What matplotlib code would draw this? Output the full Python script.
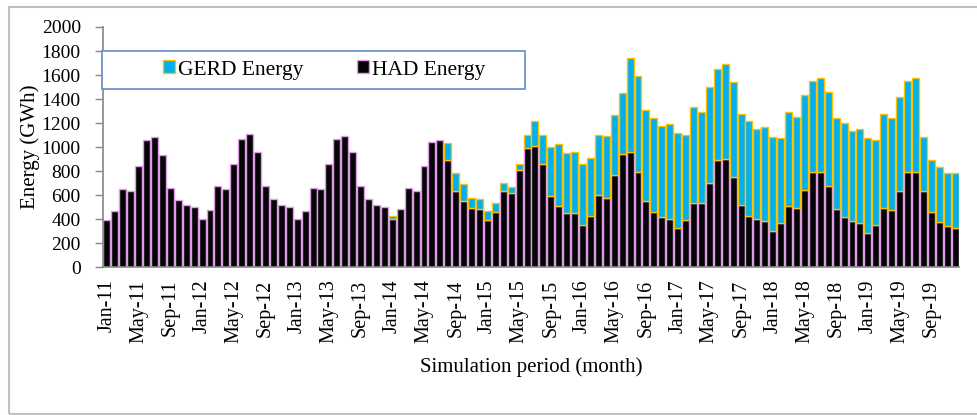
import matplotlib
matplotlib.use("Agg")
import matplotlib.pyplot as plt
from matplotlib.patches import Rectangle
import numpy as np

plt.rcParams['font.family'] = ['Liberation Serif', 'DejaVu Serif']

# Monthly energy (GWh), Jan-2011 .. Dec-2019
had_energy = [
    390, 468, 646, 632, 838, 1056, 1084, 930, 657, 557, 518, 504,   # 2011
    404, 479, 671, 649, 855, 1070, 1106, 956, 671, 568, 518, 504,   # 2012
    404, 468, 657, 646, 855, 1070, 1095, 956, 671, 568, 518, 504,   # 2013
    404, 482, 660, 632, 841, 1045, 1056, 891, 635, 549, 493, 482,   # 2014
    390, 460, 635, 613, 808, 989, 1011, 858, 591, 507, 454, 454,    # 2015
    354, 426, 596, 571, 766, 942, 958, 788, 552, 457, 418, 402,     # 2016
    326, 390, 535, 535, 702, 891, 903, 747, 518, 429, 396, 384,     # 2017
    304, 368, 507, 493, 638, 788, 788, 671, 482, 418, 382, 368,     # 2018
    287, 351, 493, 479, 635, 788, 788, 635, 457, 379, 340, 326,     # 2019
]
gerd_energy = [
    0, 0, 0, 0, 0, 0, 0, 0, 0, 0, 0, 0,                              # 2011
    0, 0, 0, 0, 0, 0, 0, 0, 0, 0, 0, 0,                              # 2012
    0, 0, 0, 0, 0, 0, 0, 0, 0, 0, 0, 0,                              # 2013
    20, 0, 0, 0, 0, 0, 0, 145, 145, 142, 78, 81,                     # 2014
    75, 75, 67, 50, 50, 109, 204, 242, 412, 518, 493, 504,           # 2015
    504, 485, 504, 518, 502, 504, 783, 800, 757, 783, 758, 790,      # 2016
    788, 710, 796, 757, 797, 761, 788, 791, 761, 786, 757, 780,      # 2017
    782, 707, 785, 761, 797, 764, 786, 786, 758, 785, 754, 785,      # 2018
    788, 708, 786, 761, 785, 764, 786, 451, 434, 451, 440, 454,      # 2019
]
tick_labels = [
    "Jan-11", "May-11", "Sep-11", "Jan-12", "May-12", "Sep-12",
    "Jan-13", "May-13", "Sep-13", "Jan-14", "May-14", "Sep-14",
    "Jan-15", "May-15", "Sep-15", "Jan-16", "May-16", "Sep-16",
    "Jan-17", "May-17", "Sep-17", "Jan-18", "May-18", "Sep-18",
    "Jan-19", "May-19", "Sep-19",
]

had = np.array(had_energy, dtype=float)
gerd = np.array(gerd_energy, dtype=float)
x = np.arange(len(had))

fig = plt.figure(figsize=(9.78, 4.15), dpi=100)
ax = fig.add_axes([103/978, (415-267)/415, 856/978, 240/415])

w = 0.88
ax.bar(x, had, width=w, color='#050505', edgecolor='#de9ce6', linewidth=1.0,
       label='HAD Energy', zorder=2)
gmask = gerd > 0
ax.bar(x[gmask], gerd[gmask], width=w, bottom=had[gmask], color='#00b0f0',
       edgecolor='#ffc000', linewidth=1.0, label='GERD Energy', zorder=2)

ax.set_xlim(-0.5, len(had) - 0.5)
ax.set_ylim(0, 2000)
ax.set_yticks(np.arange(0, 2001, 200))
ax.set_xticks(np.arange(0, len(had), 4))
ax.set_xticklabels(tick_labels, rotation=90)
ax.tick_params(axis='x', length=0, pad=9, labelsize=14.5)
ax.tick_params(axis='y', length=6, width=1, color='#868686', pad=10, labelsize=14)

for s in ['top', 'right']:
    ax.spines[s].set_visible(False)
for s in ['left', 'bottom']:
    ax.spines[s].set_color('#868686')
    ax.spines[s].set_linewidth(1.2)

ax.set_ylabel('Energy (GWh)', fontsize=15, labelpad=1)
ax.set_xlabel('Simulation period (month)', fontsize=15, labelpad=10)

# legend frame box
lx0 = (102-103)/856
lx1 = (525-103)/856
ly0 = (267-89)/240
ly1 = (267-51)/240
ax.add_patch(Rectangle((lx0, ly0), lx1-lx0, ly1-ly0, transform=ax.transAxes,
                       facecolor='white', edgecolor='#6d93cc', linewidth=1.3,
                       zorder=5, clip_on=False))
handles, labels = ax.get_legend_handles_labels()
leg = ax.legend(handles[::-1], labels[::-1], loc='center',
                bbox_to_anchor=((324-103)/856, (267-70)/240), ncol=2,
                frameon=False, fontsize=15.5, handlelength=0.55, handleheight=0.55,
                handletextpad=0.15, columnspacing=2.5, borderaxespad=0)
leg.set_zorder(6)

# outer chart frame
fig.patches.append(Rectangle((9/978, 1.5/415), 1.0, (415-7-1.5)/415,
                             transform=fig.transFigure, fill=False,
                             edgecolor='#c0c0c0', linewidth=1.5))

fig.savefig('out.png', dpi=100)
